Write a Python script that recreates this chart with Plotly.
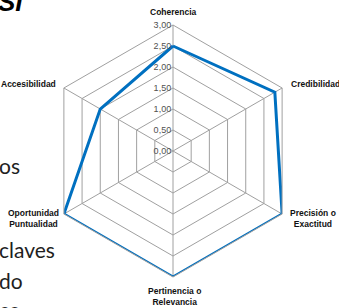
import plotly.graph_objects as go

categories = ["Coherencia", "Credibilidad", "Precisión o<br>Exactitud",
              "Pertinencia o<br>Relevancia", "Oportunidad<br>Puntualidad", "Accesibilidad"]
values = [2.5, 2.8, 3.0, 3.0, 3.0, 2.0]
tick_vals = [0, 0.5, 1.0, 1.5, 2.0, 2.5, 3.0]
tick_text = ["0,00", "0,50", "1,00", "1,50", "2,00", "2,50", "3,00"]
side_text = ["SI", "os", "claves", "do", "co"]

W, H = 339, 308
ML, MR, MT, MB = 47, 40, 25, 31
PW, PH = W - ML - MR, H - MT - MB


def px(x):
    return (x - ML) / PW


def py(y):
    return (H - MB - y) / PH


fig = go.Figure()
fig.add_trace(go.Scatterpolar(
    r=values + values[:1],
    theta=categories + categories[:1],
    mode="lines",
    line=dict(color="#0070C0", width=3),
    hoverinfo="skip",
))

fig.update_layout(
    width=W, height=H,
    margin=dict(l=ML, r=MR, t=MT, b=MB),
    paper_bgcolor="white",
    showlegend=False,
    polar=dict(
        domain=dict(x=[0, 1], y=[0, 1]),
        bgcolor="white",
        gridshape="linear",
        radialaxis=dict(
            range=[0, 3], tickvals=tick_vals, ticktext=tick_text,
            angle=90, tickangle=90, side="counterclockwise",
            showline=False, gridcolor="#a0a0a0", gridwidth=1,
            tickfont=dict(family="Liberation Sans", size=9, color="#505050"),
            ticks="",
        ),
        angularaxis=dict(
            rotation=90, direction="clockwise",
            showline=True, linecolor="#a0a0a0", linewidth=1,
            gridcolor="#a0a0a0", gridwidth=1, ticks="",
            showticklabels=False,
        ),
    ),
)

lab_font = dict(family="Liberation Sans", size=8.5, color="#111111")
labels = [
    ("<b>Coherencia</b>", 173, 12, "center"),
    ("<b>Credibilidad</b>", 289, 84, "left"),
    ("<b>Precisión o</b><br><b>Exactitud</b>", 313, 218, "center"),
    ("<b>Pertinencia o</b><br><b>Relevancia</b>", 174, 296, "center"),
    ("<b>Oportunidad</b><br><b>Puntualidad</b>", 33, 218, "center"),
    ("<b>Accesibilidad</b>", 58, 84, "right"),
]
for t, x, y, xa in labels:
    fig.add_annotation(text=t, x=px(x), y=py(y), xref="paper", yref="paper",
                       xanchor=xa, yanchor="middle", showarrow=False, font=lab_font)

big_font = dict(family="Lato", size=21, color="#1e1e1e")
side_pos = [(0, 2), (-3, 165), (-3, 249), (-3, 280), (-3, 309)]
for i, (t, (x, y)) in enumerate(zip(side_text, side_pos)):
    if i == 0:
        fig.add_annotation(text="<b><i>" + t + "</i></b>", x=px(-4), y=py(y),
                           xref="paper", yref="paper", xanchor="left", yanchor="middle",
                           showarrow=False, font=dict(family="Liberation Sans", size=26, color="#000000"))
    else:
        fig.add_annotation(text=t, x=px(x), y=py(y), xref="paper", yref="paper",
                           xanchor="left", yanchor="middle", showarrow=False, font=big_font)

fig.write_html("out.html", config={"displayModeBar": False},
               post_script="document.body.style.margin='0';")
